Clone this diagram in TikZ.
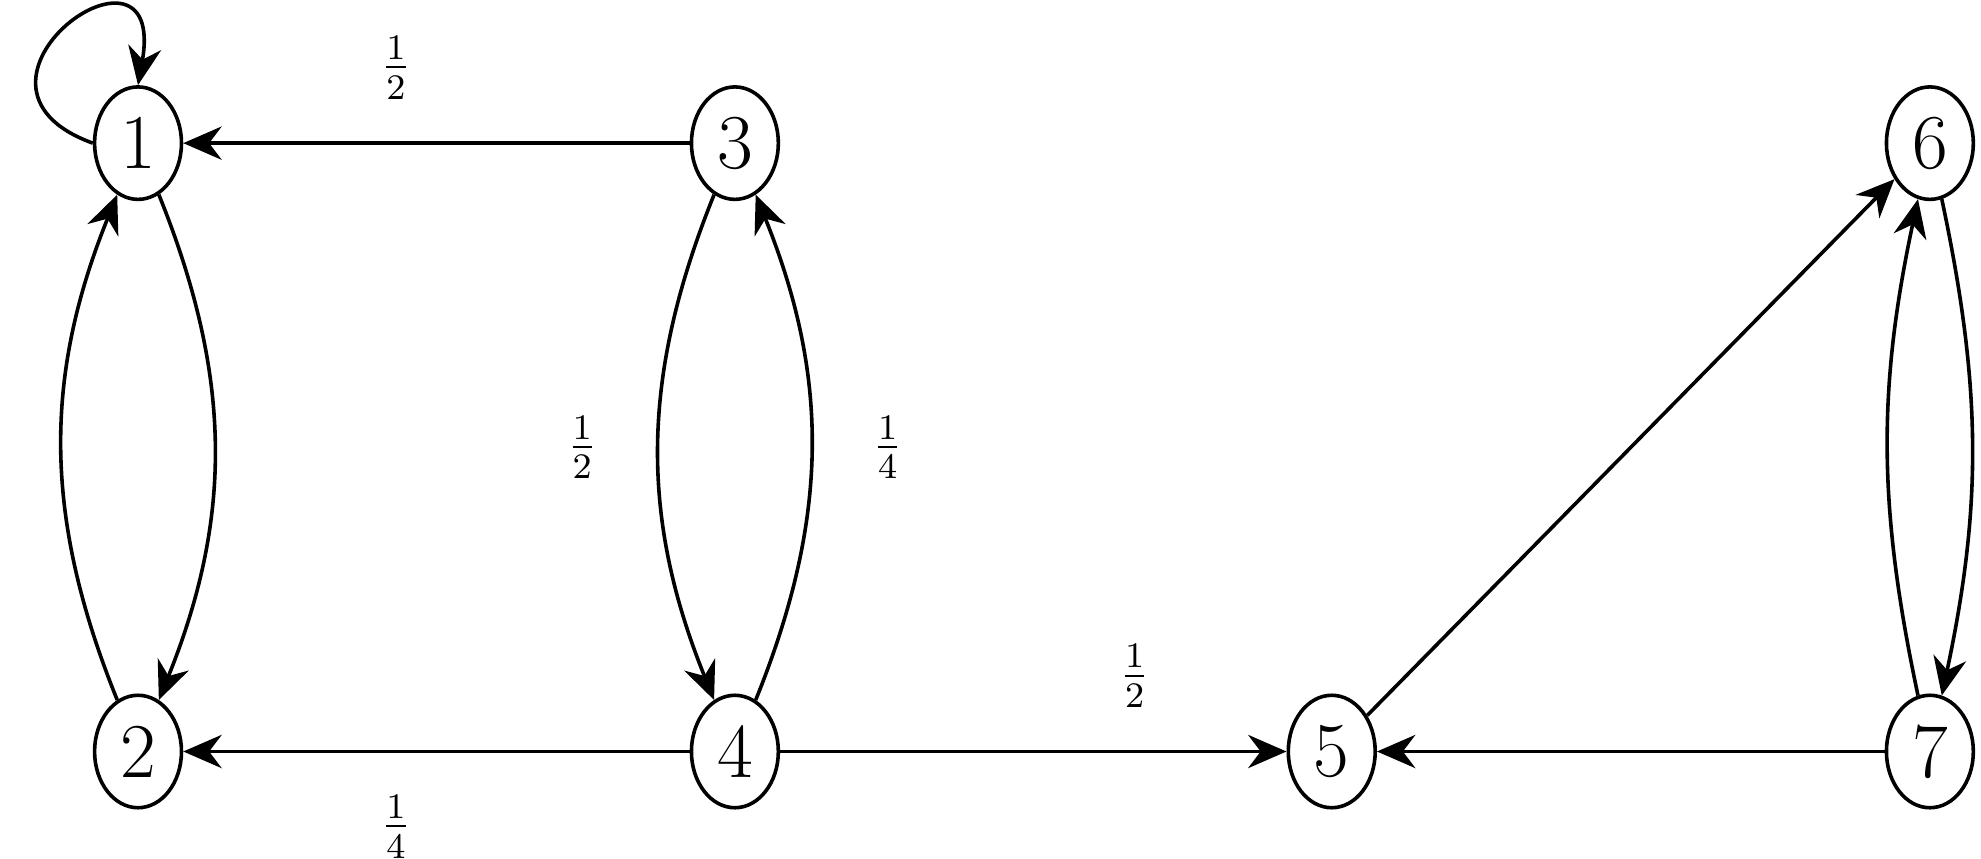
\documentclass[tikz,border=0pt]{standalone}
\usetikzlibrary{shapes.geometric, arrows.meta}
\begin{document}
\begin{tikzpicture}[
		state/.style={ellipse, draw, thick, minimum width=0.68cm, minimum height=0.88cm, inner sep=0pt, font=\LARGE},
		edge/.style={thick, -{Stealth[length=3mm, width=2.6mm]}},
		lab/.style={font=\large}
		]
		\useasboundingbox (0,0) rectangle (15.5,6.72);
		\node [state] (n1) at (1.08,5.60) {1};
		\node [state] (n3) at (5.75,5.60) {3};
		\node [state] (n6) at (15.10,5.60) {6};
		\node [state] (n2) at (1.08,0.84) {2};
		\node [state] (n4) at (5.75,0.84) {4};
		\node [state] (n5) at (10.42,0.84) {5};
		\node [state] (n7) at (15.10,0.84) {7};
		\draw [edge] (n1.west) to [out=160, in=80, looseness=6] (n1.north);
		\draw [edge] (n1) to [bend left=22] (n2);
		\draw [edge] (n2) to [bend left=22] (n1);
		\draw [edge] (n3) -- node [lab, above, pos=0.58, yshift=6pt] {$\frac{1}{2}$} (n1);
		\draw [edge] (n4) -- node [lab, below, pos=0.58, yshift=-6pt] {$\frac{1}{4}$} (n2);
		\draw [edge] (n3) to [bend right=22] node [lab, left, xshift=-10pt] {$\frac{1}{2}$} (n4);
		\draw [edge] (n4) to [bend right=22] node [lab, right, xshift=10pt] {$\frac{1}{4}$} (n3);
		\draw [edge] (n4) -- node [lab, above, yshift=6pt, pos=0.7] {$\frac{1}{2}$} (n5);
		\draw [edge] (n7) -- (n5);
		\draw [edge] (n5) -- (n6);
		\draw [edge] (n7) to [bend left=12] (n6);
		\draw [edge] (n6) to [bend left=12] (n7);
	\end{tikzpicture}
\end{document}
